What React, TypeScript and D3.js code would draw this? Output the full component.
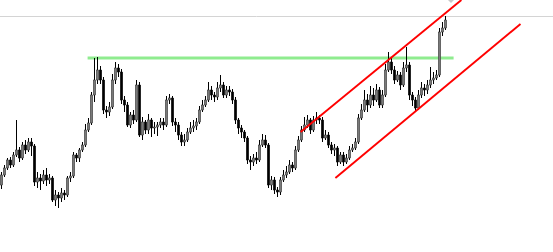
import React from "react";
import * as d3 from "d3";

const WIDTH = 553;
const HEIGHT = 252;

// Candle series (price units), one entry per bar
const firstOpen = 67;
const closes = [
  77, 84, 92, 87, 97, 102, 94, 107, 102, 110,
  106, 70, 74, 71, 77, 72, 74, 52, 57, 54,
  59, 57, 74, 76, 97, 94, 102, 107, 122, 129,
  157, 172, 182, 172, 142, 140, 145, 172, 184, 180,
  152, 147, 127, 137, 132, 167, 117, 130, 122, 132,
  124, 125, 127, 130, 127, 152, 154, 130, 127, 117,
  110, 112, 120, 124, 126, 130, 142, 147, 152, 162,
  157, 155, 164, 167, 157, 162, 160, 152, 132, 124,
  120, 114, 92, 90, 94, 92, 107, 112, 107, 67,
  72, 62, 60, 72, 77, 80, 87, 84, 102, 112,
  122, 127, 132, 122, 132, 134, 132, 114, 117, 107,
  102, 104, 90, 97, 90, 94, 102, 104, 110, 134,
  142, 152, 147, 157, 152, 162, 147, 157, 182, 190,
  182, 172, 177, 167, 184, 187, 157, 152, 144, 157,
  164, 162, 167, 172, 174, 177, 220, 224, 232,
];
const highs = [
  80, 87, 94, 95, 100, 132, 105, 110, 112, 114,
  114, 108, 80, 78, 82, 84, 78, 76, 62, 60,
  64, 62, 76, 80, 100, 99, 104, 110, 128, 134,
  160, 194, 195, 186, 175, 146, 150, 178, 190, 188,
  183, 156, 150, 140, 142, 172, 170, 135, 132, 138,
  134, 130, 130, 134, 134, 156, 158, 156, 134, 130,
  120, 118, 124, 130, 132, 134, 146, 152, 156, 170,
  166, 160, 170, 177, 170, 166, 166, 163, 155, 134,
  127, 122, 116, 96, 98, 100, 112, 118, 117, 109,
  76, 75, 65, 75, 82, 86, 92, 90, 106, 116,
  126, 135, 137, 134, 136, 140, 137, 135, 122, 120,
  110, 108, 106, 100, 100, 98, 106, 108, 114, 138,
  148, 162, 158, 166, 164, 168, 165, 162, 188, 200,
  194, 186, 181, 180, 190, 205, 190, 160, 155, 162,
  170, 168, 172, 185, 180, 182, 224, 230, 236,
];
const lows = [
  63, 75, 82, 84, 85, 95, 90, 92, 98, 100,
  96, 66, 64, 62, 68, 66, 68, 50, 46, 44,
  50, 52, 55, 70, 74, 90, 90, 100, 105, 120,
  127, 150, 168, 168, 138, 134, 136, 143, 168, 175,
  148, 140, 125, 124, 128, 130, 115, 112, 118, 118,
  115, 118, 116, 124, 122, 125, 148, 126, 120, 112,
  106, 106, 110, 118, 120, 122, 128, 140, 145, 150,
  152, 150, 152, 160, 154, 154, 156, 148, 128, 118,
  114, 110, 88, 82, 86, 88, 90, 105, 104, 64,
  62, 58, 55, 57, 70, 74, 78, 80, 82, 100,
  110, 120, 124, 118, 120, 128, 128, 110, 112, 104,
  98, 96, 86, 88, 86, 88, 92, 100, 102, 108,
  132, 140, 140, 144, 146, 150, 144, 144, 155, 180,
  178, 168, 170, 162, 165, 180, 152, 146, 140, 142,
  154, 156, 158, 164, 168, 172, 175, 216, 222,
];

// Reference levels and channel lines, as [bar index, price] endpoints
const resistanceLevel: [number, number][] = [[28.7, 194], [150.7, 194]];
const channelUpper: [number, number][] = [[99.7, 120], [153.3, 252]];
const channelLower: [number, number][] = [[111.3, 74], [173, 228]];
const topGridPrice = 236;

export default function App() {
  const n = closes.length;
  const x = d3.scaleLinear().domain([0, n - 1]).range([1.5, 1.5 + 3 * (n - 1)]);
  const y = d3.scaleLinear().domain([0, HEIGHT]).range([HEIGHT, 0]);
  const line = d3
    .line<[number, number]>()
    .x((d) => x(d[0]))
    .y((d) => y(d[1]));

  const bars = closes.map((c, i) => {
    const o = i === 0 ? firstOpen : closes[i - 1];
    return { i, o, c, h: highs[i], l: lows[i] };
  });

  return (
    <svg
      width={WIDTH}
      height={HEIGHT}
      style={{ position: "absolute", left: 0, top: 0, background: "#fff" }}
    >
      <line
        x1={0}
        x2={WIDTH}
        y1={Math.round(y(topGridPrice)) + 0.5}
        y2={Math.round(y(topGridPrice)) + 0.5}
        stroke="#d4d4d4"
        strokeWidth={1}
      />
      <path d="M448,0 L454,0 L451,3 Z" fill="#c8c8c8" />
      <path
        d={line(resistanceLevel) || ""}
        stroke="#8fec8f"
        strokeWidth={3}
        fill="none"
      />
      <g>
        {bars.map((b) => {
          const cx = x(b.i);
          const up = b.c >= b.o;
          const top = y(Math.max(b.o, b.c));
          const bot = y(Math.min(b.o, b.c));
          return (
            <g key={b.i}>
              <line
                x1={cx}
                x2={cx}
                y1={y(b.h)}
                y2={y(b.l)}
                stroke="#000"
                strokeWidth={1}
              />
              <rect
                x={cx - 1.2}
                y={top}
                width={2.4}
                height={Math.max(1, bot - top)}
                fill={up ? "#7a7a7a" : "#000"}
                stroke={up ? "#2a2a2a" : "#000"}
                strokeWidth={0.5}
              />
            </g>
          );
        })}
      </g>
      <path d={line(channelUpper) || ""} stroke="#ff0000" strokeWidth={1.9} fill="none" />
      <path d={line(channelLower) || ""} stroke="#ff0000" strokeWidth={1.9} fill="none" />
    </svg>
  );
}
